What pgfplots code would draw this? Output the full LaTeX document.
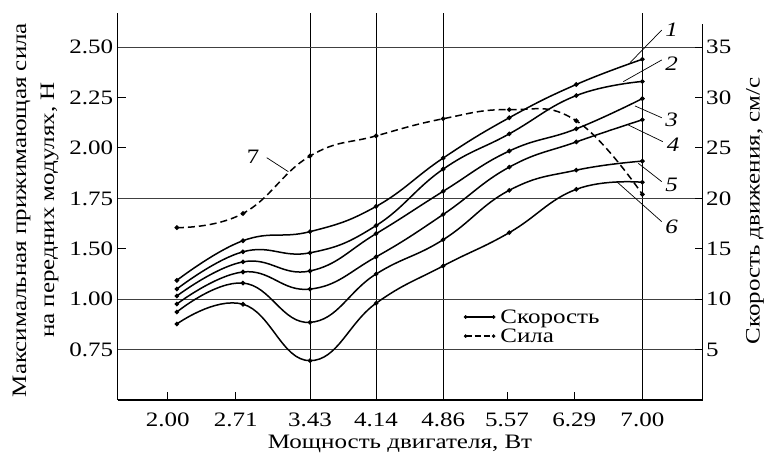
\documentclass[border=0pt]{standalone}
\usepackage{fontspec}
\setmainfont{Liberation Serif}[FakeStretch=1.22]
\usepackage{pgfplots}
\pgfplotsset{compat=1.18}

% speed curves 1..6 and force curve 7 (plotted in speed units of right axis)
\pgfplotstableread{
x    c1    c2    c3    c4    c5    c6    c7
2.00 11.87 11.01 10.32 9.52  8.73  7.54  17.1
2.71 15.8  14.7  13.7  12.7  11.6  9.5   18.5
3.43 16.7  14.6  12.8  11.0  7.7   3.9   24.2
4.14 19.2  17.3  16.5  14.2  12.5  9.6   26.2
4.86 24.0  22.9  20.7  18.4  15.9  13.3  27.9
5.57 28.0  26.4  24.7  23.1  20.8  16.6  28.8
6.29 31.3  30.2  26.9  25.6  22.8  20.9  27.7
7.00 33.8  31.6  29.9  27.8  23.7  21.6  20.4
}\data

\newcommand\fs{\fontsize{20.5}{24.6}\selectfont}

\begin{document}
\begin{tikzpicture}[font=\fs]
\begin{axis}[
  at={(0pt,0pt)}, anchor=south west,
  scale only axis, width=585pt, height=387pt,
  xmin=1.3645, xmax=7.648, ymin=0, ymax=38.39,
  axis x line=bottom, axis y line=left,
  axis line style={-, line width=1.1pt},
  xtick={1.902,2.632,3.43,4.14,4.86,5.546,6.269,7.00},
  xticklabels={2.00,2.71,3.43,4.14,4.86,5.57,6.29,7.00},
  ytick={5,10,15,20,25,30,35},
  yticklabels={0.75,1.00,1.50,1.75,2.00,2.25,2.50},
  tick align=inside, major tick length=8pt,
  tick style={line width=1pt, black},
  /pgf/number format/assume math mode=true,
  xticklabel style={inner sep=1pt, yshift=-12pt},
  yticklabel style={xshift=-1pt},
  clip=false,
  legend style={at={(axis cs:5.08,9.1)}, anchor=north west, draw=none, fill=none,
    inner sep=0pt, row sep=2pt, nodes={inner sep=1pt},
    /tikz/every odd column/.append style={column sep=4pt}},
  legend cell align=left,
]
% grid lines
\draw[line width=1pt] (axis cs:3.43,0) -- (axis cs:3.43,38.39);
\draw[line width=1pt] (axis cs:4.14,0) -- (axis cs:4.14,38.39);
\draw[line width=1pt] (axis cs:4.86,0) -- (axis cs:4.86,38.39);
\draw[line width=1pt] (axis cs:7.00,0) -- (axis cs:7.00,38.39);
\draw[line width=1pt, black!75] (axis cs:1.3645,5) -- (axis cs:7.648,5);
\draw[line width=1pt, black!75] (axis cs:1.3645,10) -- (axis cs:7.648,10);
\draw[line width=1pt, black!75] (axis cs:1.3645,20) -- (axis cs:7.648,20);
\draw[line width=1pt, black!75] (axis cs:1.3645,35) -- (axis cs:7.648,35);

\pgfplotsinvokeforeach{c1,c2,c3,c4,c5,c6}{
  \addplot[forget plot, black, line width=1.5pt, smooth, tension=0.75, mark=*, mark size=1.5pt]
    table[x=x, y=#1] {\data};
}
\addplot[forget plot, black, line width=1.5pt, smooth, tension=0.75, dash pattern=on 7pt off 4pt,
  mark=*, mark size=1.5pt, mark options={solid}] table[x=x, y=c7] {\data};

% curve labels
\node[font=\fs\itshape] at (axis cs:7.315,36.7) {1};
\node[font=\fs\itshape] at (axis cs:7.315,33.4) {2};
\node[font=\fs\itshape] at (axis cs:7.315,27.8) {3};
\node[font=\fs\itshape] at (axis cs:7.329,25.3) {4};
\node[font=\fs\itshape] at (axis cs:7.315,21.3) {5};
\node[font=\fs\itshape] at (axis cs:7.315,17.2) {6};
\node at (axis cs:2.818,24.14) {7};
\draw[line width=0.7pt] (axis cs:6.867,33.46) -- (axis cs:7.208,36.7);
\draw[line width=0.7pt] (axis cs:6.795,31.58) -- (axis cs:7.208,33.73);
\draw[line width=0.7pt] (axis cs:6.921,29.17) -- (axis cs:7.208,28.0);
\draw[line width=0.7pt] (axis cs:6.849,27.28) -- (axis cs:7.219,25.63);
\draw[line width=0.7pt] (axis cs:6.956,23.48) -- (axis cs:7.208,21.66);
\draw[line width=0.7pt] (axis cs:6.724,21.66) -- (axis cs:7.208,17.69);
\draw[line width=0.7pt] (axis cs:2.965,24.04) -- (axis cs:3.197,22.65);

\addlegendimage{legend image code/.code={
  \draw[line width=1.3pt] (0pt,0pt) -- (28pt,0pt);
  \fill (0pt,0pt) circle (1.6pt); \fill (28pt,0pt) circle (1.6pt);}}
\addlegendentry{Скорость}
\addlegendimage{legend image code/.code={
  \draw[line width=1.3pt, dash pattern=on 6pt off 3pt] (0pt,0pt) -- (28pt,0pt);
  \fill (0pt,0pt) circle (1.6pt); \fill (28pt,0pt) circle (1.6pt);}}
\addlegendentry{Сила}
\end{axis}

\begin{axis}[
  at={(0pt,0pt)}, anchor=south west,
  scale only axis, width=585pt, height=376pt,
  xmin=1.3645, xmax=7.648, ymin=0, ymax=37.3,
  axis y line=right, axis x line=none,
  axis line style={-, line width=1.1pt},
  ytick={5,10,15,20,25,30,35},
  tick align=inside, major tick length=8pt,
  tick style={line width=1pt, black},
  /pgf/number format/assume math mode=true,
]
\addplot[draw=none, forget plot] coordinates {(2,10)};
\end{axis}

\node[rotate=90, align=center, font=\fontsize{20.5}{28}\selectfont] at (-82pt,190pt)
  {Максимальная прижимающая сила\\на передних модулях, Н};
\node[rotate=90] at (637.3pt,189pt) {Скорость движения, см/с};
\node[inner sep=1pt] at (282.3pt,-43.5pt) {Мощность двигателя, Вт};

\pgfresetboundingbox
\path[use as bounding box] (-117.7pt,-53pt) rectangle (647.3pt,400pt);
\end{tikzpicture}
\end{document}
